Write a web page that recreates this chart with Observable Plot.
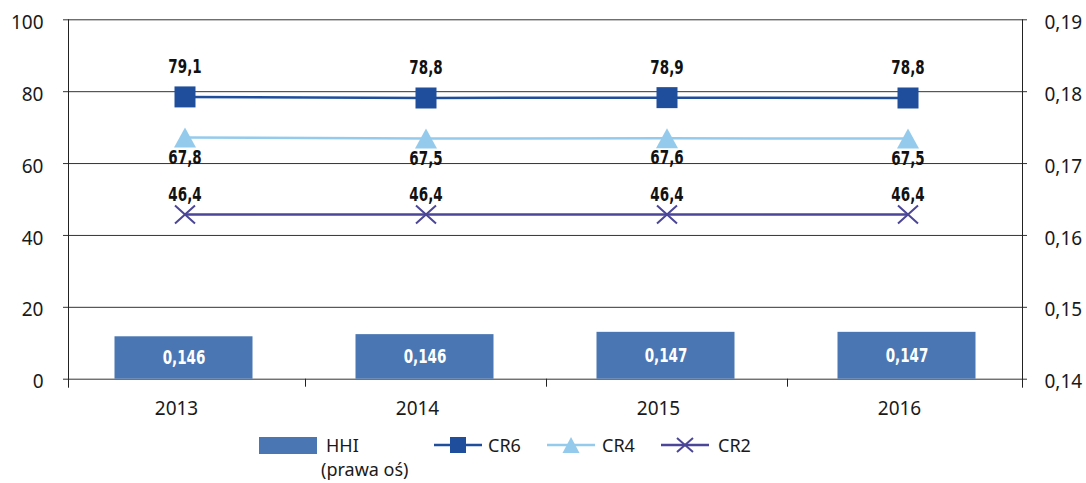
<!DOCTYPE html>
<html>
<head>
<meta charset="utf-8">
<script src="https://cdn.jsdelivr.net/npm/d3@7"></script>
<script src="https://cdn.jsdelivr.net/npm/@observablehq/plot@0.6"></script>
<style>
  html, body { margin: 0; padding: 0; background: #fff; }
  #wrap { position: relative; width: 1086px; height: 483px; font-family: "Noto Sans", sans-serif; color: #1a1a1a; }
  #legend { position: absolute; left: 0; top: 0; width: 1086px; height: 483px; pointer-events: none; }
  .lg { position: absolute; font-size: 18px; line-height: 20px; white-space: nowrap; }
  .sw { position: absolute; }
</style>
</head>
<body>
<div id="wrap"><div id="chart"></div><div id="legend"></div></div>
<script>
// ---- data ----
const years = ["2013", "2014", "2015", "2016"];
const hhi = [0.1459, 0.1462, 0.14652, 0.14652];
const cr6 = [79.1, 78.8, 78.9, 78.8];
const cr4 = [67.8, 67.5, 67.6, 67.5];
const cr2 = [46.4, 46.4, 46.4, 46.4];
const leftTicks = [0, 20, 40, 60, 80, 100];
const rightTicks = [0.14, 0.15, 0.16, 0.17, 0.18, 0.19];
const seriesNames = ["CR6", "CR4", "CR2"];
const hhiName = "HHI";
const hhiNote = "(prawa oś)";

// ---- styles ----
const colors = { HHI: "#4a77b4", CR6: "#1f4f9c", CR4: "#94cbec", CR2: "#4b4697" };
const labelDy = { CR6: -28, CR4: 22, CR2: -18 };
const labelFont = "'DejaVu Sans Condensed', 'DejaVu Sans', sans-serif";

// right axis (0.14–0.19) mapped onto left axis (0–100)
const rMin = rightTicks[0], rMax = rightTicks[rightTicks.length - 1];
const toLeft = v => (v - rMin) / (rMax - rMin) * 100;
const fromLeft = d => rMin + d / 100 * (rMax - rMin);
const comma = (v, n) => v.toFixed(n).replace(".", ",");

// custom symbols centred on their bounding box
const sq = { draw(ctx, size) { const r = Math.sqrt(size / Math.PI); ctx.moveTo(-r, -r); ctx.lineTo(r, -r); ctx.lineTo(r, r); ctx.lineTo(-r, r); ctx.closePath(); } };
const tri = { draw(ctx, size) { const r = Math.sqrt(size / Math.PI); ctx.moveTo(0, -r); ctx.lineTo(r * 1.1, r); ctx.lineTo(-r * 1.1, r); ctx.closePath(); } };
const times = { draw(ctx, size) { const r = Math.sqrt(size / Math.PI); ctx.moveTo(-r, -r * 0.9); ctx.lineTo(r, r * 0.9); ctx.moveTo(r, -r * 0.9); ctx.lineTo(-r, r * 0.9); } };
const symbols = { CR6: sq, CR4: tri, CR2: times };
const seriesValues = { CR6: cr6, CR4: cr4, CR2: cr2 };

const bars = years.map((y, i) => ({ year: y, hhi: hhi[i] }));
const series = seriesNames.map(name => ({
  name,
  rows: years.map((y, i) => ({ year: y, v: seriesValues[name][i] }))
}));

const marks = [
  Plot.gridY(leftTicks, { stroke: "#333", strokeOpacity: 1, strokeWidth: 1, insetLeft: -5, insetRight: -5 }),
  Plot.frame({ anchor: "left", stroke: "#222", insetBottom: -8 }),
  Plot.frame({ anchor: "right", stroke: "#222", insetBottom: -8 }),
  Plot.axisY({ ticks: leftTicks, anchor: "left", tickSize: 0, tickPadding: 25, label: null, fontSize: 19, dy: 3 }),
  Plot.axisY({ ticks: rightTicks.map(toLeft), anchor: "right", tickSize: 0, tickPadding: 22, label: null, fontSize: 19, dy: 3,
               tickFormat: d => comma(fromLeft(d), 2) }),
  Plot.axisX({ tickSize: 0, tickPadding: 22, label: null, fontSize: 19, dx: -8.5 }),
  Plot.axisX({ ticks: years.slice(1), tickSize: 8, tickFormat: () => "", label: null, dx: -120.5, stroke: "#222" }),
  Plot.barY(bars, { x: "year", y: d => toLeft(d.hhi), fill: colors.HHI, insetLeft: 50.5, insetRight: 52.5 }),
  Plot.text(bars, { x: "year", y: d => toLeft(d.hhi) / 2, text: d => comma(d.hhi, 3), fill: "white",
                    fontWeight: "bold", fontSize: 19, fontFamily: labelFont, dx: -1, className: "narrowlbl" })
];
for (const s of series) {
  const c = colors[s.name];
  marks.push(Plot.line(s.rows, { x: "year", y: "v", stroke: c, strokeWidth: 2.5, dy: 2 }));
  if (s.name === "CR2") {
    marks.push(Plot.dot(s.rows, { x: "year", y: "v", symbol: symbols[s.name], r: 10, stroke: c, fill: "none", strokeWidth: 2, dy: 2 }));
  } else {
    marks.push(Plot.dot(s.rows, { x: "year", y: "v", symbol: symbols[s.name], r: s.name === "CR6" ? 10.5 : 10, fill: c, stroke: "none", dy: 2 }));
  }
  marks.push(Plot.text(s.rows, { x: "year", y: "v", text: d => comma(d.v, 1), dy: labelDy[s.name],
                                 fontWeight: "bold", fontSize: 19, fontFamily: labelFont, fill: "#111", className: "narrowlbl" }));
}

const chart = Plot.plot({
  width: 1086, height: 420,
  marginLeft: 68, marginRight: 64, marginTop: 19.3, marginBottom: 41.3,
  x: { type: "band", domain: years, range: [63.5, 1027.5], padding: 0, axis: null },
  y: { domain: [0, 100], range: [378.7, 19.3], axis: null },
  style: { fontFamily: "'Noto Sans', sans-serif", fontSize: "19px", color: "#1a1a1a", background: "white", overflow: "visible" },
  marks
});
document.getElementById("chart").appendChild(chart);

// condense the bold value labels (reference uses a bold condensed face)
chart.querySelectorAll(".narrowlbl text").forEach(el => {
  const w = el.getComputedTextLength();
  if (w > 0) {
    el.setAttribute("textLength", (w * 0.79).toFixed(1));
    el.setAttribute("lengthAdjust", "spacingAndGlyphs");
  }
});

// ---- legend (HTML below the SVG) ----
const lg = document.getElementById("legend");
function add(html) { lg.insertAdjacentHTML("beforeend", html); }
add(`<div class="sw" style="left:259px;top:437px;width:58px;height:17px;background:${colors.HHI}"></div>`);
add(`<div class="lg" style="left:326px;top:435px">${hhiName}</div>`);
add(`<div class="lg" style="left:321px;top:459px">${hhiNote}</div>`);
const legPos = { CR6: [434, 488], CR4: [547, 602], CR2: [661, 718] };
for (const name of seriesNames) {
  const [lx, tx] = legPos[name];
  const c = colors[name];
  let sym = "";
  if (name === "CR6") sym = `<rect x="16" y="2" width="16" height="16" fill="${c}"/>`;
  if (name === "CR4") sym = `<path d="M24,2 L32.5,18 L15.5,18 Z" fill="${c}"/>`;
  if (name === "CR2") sym = `<path d="M16,3 L32,17 M32,3 L16,17" stroke="${c}" stroke-width="2" fill="none"/>`;
  add(`<svg class="sw" style="left:${lx}px;top:435px" width="48" height="20"><line x1="0" x2="48" y1="10" y2="10" stroke="${c}" stroke-width="2.5"/>${sym}</svg>`);
  add(`<div class="lg" style="left:${tx}px;top:435px">${name}</div>`);
}
</script>
</body>
</html>
